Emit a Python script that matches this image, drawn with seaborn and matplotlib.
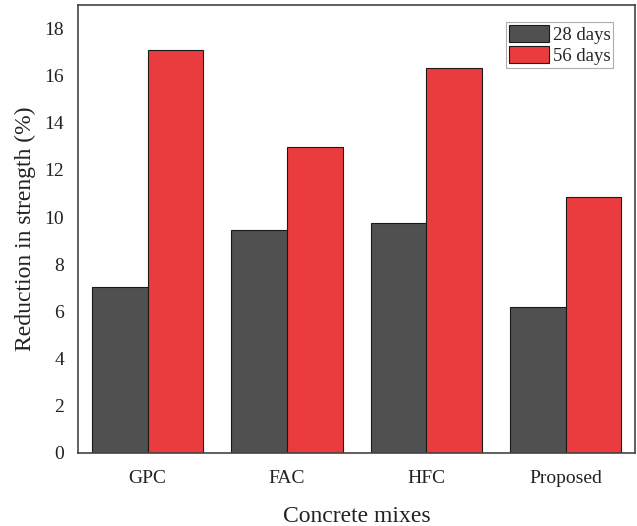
import matplotlib
matplotlib.use("Agg")
import matplotlib.pyplot as plt
import seaborn as sns
import pandas as pd

categories = ["GPC", "FAC", "HFC", "Proposed"]
days_28 = [7.05, 9.45, 9.75, 6.2]
days_56 = [17.1, 12.95, 16.3, 10.85]
series_names = ["28 days", "56 days"]
colors = ["#505050", "#ea3c3e"]

df = pd.DataFrame({
    "mix": categories * 2,
    "value": days_28 + days_56,
    "age": [series_names[0]] * 4 + [series_names[1]] * 4,
})

sns.set_theme(style="white")
plt.rcParams["font.family"] = ["Liberation Serif", "DejaVu Serif"]

fig = plt.figure(figsize=(6.37, 5.26), dpi=100)
ax = fig.add_axes([0.1225, 0.139, 0.875, 0.852])

sns.barplot(data=df, x="mix", y="value", hue="age", palette=colors,
            width=0.8, edgecolor="#1a1a1a", linewidth=0.8, saturation=1,
            ax=ax, errorbar=None)

ax.set_ylim(0, 19)
ax.set_xlim(-0.5, 3.5)
ax.set_yticks(range(0, 19, 2))
ax.tick_params(axis="both", length=0, labelsize=14, colors="#222222")
ax.tick_params(axis="x", pad=12)
ax.tick_params(axis="y", pad=10)
ax.set_xlabel("Concrete mixes", fontsize=17, color="#222222", labelpad=14)
ax.set_ylabel("Reduction in strength (%)", fontsize=17, color="#222222", labelpad=6)
for s in ax.spines.values():
    s.set_color("#444444")
    s.set_linewidth(1.2)

leg = ax.legend(loc="upper right", bbox_to_anchor=(0.9605, 0.962), fontsize=13.5,
                frameon=True, fancybox=False, edgecolor="#999999",
                handlelength=2.13, handleheight=1.05, handletextpad=0.2,
                labelspacing=0.12, borderpad=0.15, borderaxespad=0.0)
leg.get_frame().set_linewidth(0.8)

fig.savefig("out.png", dpi=100)
